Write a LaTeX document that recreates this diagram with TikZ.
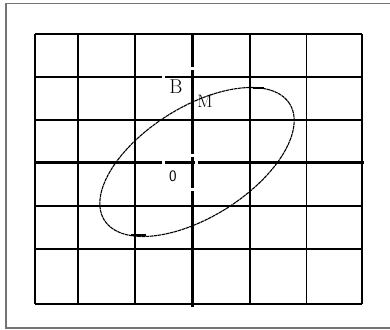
\documentclass[tikz,border=0pt]{standalone}
\begin{document}
\begin{tikzpicture}[x=1pt,y=-1pt,
  frameline/.style={draw=black!55,line width=1.3pt},
  gridline/.style={draw=black,line width=1.7pt},
  axisline/.style={draw=black,line width=3pt},
  ell/.style={draw=black,line width=1.1pt,dash pattern=on 3.5pt off 0.6pt},
  thickdash/.style={draw=black,line width=2pt},
  gap/.style={fill=white},
  lbl/.style={inner sep=0pt,font=\fontsize{20}{20}\selectfont}]
\useasboundingbox (0,0) rectangle (390,329);
\clip (0,0) rectangle (390,329);
% outer frame
\draw[frameline] (400,3.5) -- (6,3.5) -- (6,328) -- (400,328);
% grid
\foreach \x in {35,78,135,250,306.5,362} \draw[gridline] (\x,34) -- (\x,304);
\foreach \y in {34,77.3,120,205.7,249,304} \draw[gridline] (35,\y) -- (362,\y);
% axes
\draw[axisline] (192,33) -- (192,307);
\draw[axisline] (35,162) -- (364,162);
% white gaps on the axes
\fill[gap] (189,67) rectangle (195,69.5);
\fill[gap] (189,154) rectangle (195,156.5);
\fill[gap] (189,188) rectangle (195,190.5);
\fill[gap] (162,159) rectangle (164.5,165);
\fill[gap] (195,159) rectangle (197.5,165);
\fill[gap] (162,75) rectangle (164.5,79.5);
% ellipse
\draw[ell] plot[domain=0:360,samples=144,smooth]
  ({197+109.4*cos(\x)*0.8471-55*sin(\x)*0.5314},
   {162-(109.4*cos(\x)*0.5314+55*sin(\x)*0.8471)}) -- cycle;
\draw[thickdash] (253,88.2) -- (264,88.2);
\draw[thickdash] (131,234.5) -- (146,234.5);
% labels
\node[lbl] (B) at (176,87) {B};
\node[lbl,font=\fontsize{18}{18}\selectfont] (M) at (205,101) {M};
\node[lbl,font=\sffamily\fontsize{16}{16}\selectfont] (O) at (173,176) {0};
\end{tikzpicture}
\end{document}
